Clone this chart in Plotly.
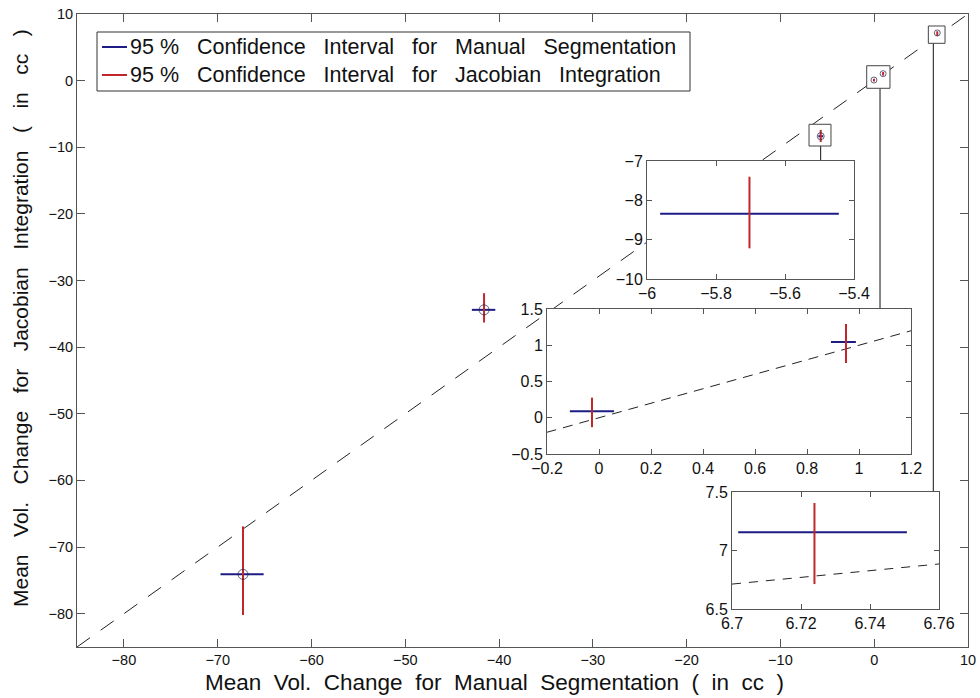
import plotly.graph_objects as go

# ---------------- data ----------------
manual_mean = [-67.3, -41.6, -5.703, -0.027, 0.95, 6.7239]
jacobian_mean = [-74.1, -34.4, -8.34, 0.088, 1.045, 7.155]
manual_lo = [-69.7, -42.9, -5.962, -0.112, 0.892, 6.7018]
manual_hi = [-65.1, -40.4, -5.444, 0.058, 0.988, 6.7507]
jacobian_lo = [-80.2, -36.3, -9.22, -0.13, 0.755, 6.713]
jacobian_hi = [-66.9, -31.9, -7.40, 0.277, 1.293, 7.406]

identity_x = [-85, 10]
identity_y = [-85, 10]
inset3_ref_x = [6.70, 6.76]
inset3_ref_y = [6.713, 6.885]

main_ticks = [-80, -70, -60, -50, -40, -30, -20, -10, 0, 10]
inset1_xticks = [-6, -5.8, -5.6, -5.4]
inset1_yticks = [-10, -9, -8, -7]
inset2_xticks = [-0.2, 0, 0.2, 0.4, 0.6, 0.8, 1, 1.2]
inset2_yticks = [-0.5, 0, 0.5, 1, 1.5]
inset3_xticks = [6.7, 6.72, 6.74, 6.76]
inset3_yticks = [6.5, 7, 7.5]

legend_labels = ["95 % Confidence Interval for Manual Segmentation",
                 "95 % Confidence Interval for Jacobian Integration"]
x_title = "Mean Vol. Change for Manual Segmentation ( in cc )"
y_title = "Mean Vol. Change for Jacobian Integration ( in cc )"

# zoom windows (data units of main axes) marked by small boxes
zoom_box_x0 = [-6.95, -0.80, 5.77]
zoom_box_x1 = [-4.61, 1.68, 7.55]
zoom_box_y0 = [-9.81, -1.15, 5.60]
zoom_box_y1 = [-6.55, 2.24, 8.20]
connector_x = [-5.71, 0.62, 6.30]

# ---------------- layout geometry (pixels) ----------------
W_FIG, H_FIG = 980, 698
L, R, T, B = 77, 968, 14, 647
PW, PH = R - L, B - T

def dx(px):
    return (px - L) / PW

def dy(py):
    return (B - py) / PH

insets_px = [(647, 854, 161, 279), (547, 911, 309, 454), (732, 939, 492, 609)]

FONT = "Liberation Sans, Arial, sans-serif"
BLUE = "#1c1c84"
RED = "#c0262a"
FRAME = "#555555"

def spaced(s, n):
    return s.replace(" ", " " + "\u00a0" * (n - 1))


def ci_traces(xa, ya, width=2):
    bx, by, rx, ry = [], [], [], []
    for i in range(len(manual_mean)):
        bx += [manual_lo[i], manual_hi[i], None]
        by += [jacobian_mean[i], jacobian_mean[i], None]
        rx += [manual_mean[i], manual_mean[i], None]
        ry += [jacobian_lo[i], jacobian_hi[i], None]
    return [
        go.Scatter(x=bx, y=by, mode="lines", line=dict(color=BLUE, width=width),
                   xaxis=xa, yaxis=ya, showlegend=False, hoverinfo="skip",
                   name="95 % CI Manual Segmentation"),
        go.Scatter(x=rx, y=ry, mode="lines", line=dict(color=RED, width=width),
                   xaxis=xa, yaxis=ya, showlegend=False, hoverinfo="skip",
                   name="95 % CI Jacobian Integration"),
    ]


fig = go.Figure()

# main identity line
fig.add_trace(go.Scatter(x=identity_x, y=identity_y, mode="lines",
                         line=dict(color="#222222", width=1, dash="16px,13px"),
                         showlegend=False, hoverinfo="skip"))

# connectors from zoom boxes to insets
cx, cy = [], []
for i, (x0, x1, y0, y1) in enumerate(insets_px):
    top_data = -85 + dy(y0) * 95 - 0.3
    cx += [connector_x[i], connector_x[i], None]
    cy += [zoom_box_y0[i], top_data, None]
fig.add_trace(go.Scatter(x=cx, y=cy, mode="lines", line=dict(color="#111111", width=1),
                         showlegend=False, hoverinfo="skip"))

# zoom boxes (white filled)
bxs, bys = [], []
for i in range(len(zoom_box_x0)):
    bxs += [zoom_box_x0[i], zoom_box_x1[i], zoom_box_x1[i], zoom_box_x0[i], zoom_box_x0[i], None]
    bys += [zoom_box_y0[i], zoom_box_y0[i], zoom_box_y1[i], zoom_box_y1[i], zoom_box_y0[i], None]
fig.add_trace(go.Scatter(x=bxs, y=bys, mode="lines", fill="toself", fillcolor="white",
                         line=dict(color="#444444", width=1), showlegend=False, hoverinfo="skip"))

for t in ci_traces("x", "y"):
    fig.add_trace(t)

fig.add_trace(go.Scatter(x=manual_mean, y=jacobian_mean, mode="markers",
                         marker=dict(symbol="circle-open", color="#22224a",
                                     size=[10, 10, 7, 6, 6, 6], line=dict(width=1)),
                         showlegend=False, hoverinfo="skip"))

# inset traces
for k, ax in enumerate(["2", "3", "4"]):
    xa, ya = "x" + ax, "y" + ax
    if ax == "3":
        fig.add_trace(go.Scatter(x=identity_x, y=identity_y, mode="lines",
                                 line=dict(color="#222222", width=1, dash="10px,7px"),
                                 xaxis=xa, yaxis=ya, showlegend=False, hoverinfo="skip"))
    if ax == "4":
        fig.add_trace(go.Scatter(x=inset3_ref_x, y=inset3_ref_y, mode="lines",
                                 line=dict(color="#222222", width=1, dash="9px,8px"),
                                 xaxis=xa, yaxis=ya, showlegend=False, hoverinfo="skip"))
    for t in ci_traces(xa, ya):
        fig.add_trace(t)

axis_common = dict(showgrid=False, zeroline=False, showline=True, linecolor=FRAME,
                   linewidth=1, mirror="ticks", ticks="inside", tickcolor=FRAME,
                   automargin=False)

layout = dict(
    width=W_FIG, height=H_FIG, autosize=False,
    margin=dict(l=L, r=W_FIG - R, t=T, b=H_FIG - B, pad=0, autoexpand=False),
    paper_bgcolor="white", plot_bgcolor="white",
    showlegend=False,
    xaxis=dict(range=[-85, 10], tickvals=main_ticks, ticklen=8, domain=[0, 1],
               anchor="y", tickfont=dict(family=FONT, size=14.5, color="#111111"),
               **axis_common),
    yaxis=dict(range=[-85, 10], tickvals=main_ticks, ticklen=8, domain=[0, 1],
               anchor="x", tickfont=dict(family=FONT, size=14.5, color="#111111"),
               **axis_common),
)

inset_ranges = [((-6, -5.4), (-10, -7), inset1_xticks, inset1_yticks),
                ((-0.2, 1.2), (-0.5, 1.5), inset2_xticks, inset2_yticks),
                ((6.7, 6.76), (6.5, 7.5), inset3_xticks, inset3_yticks)]
for k, ax in enumerate(["2", "3", "4"]):
    x0, x1, y0, y1 = insets_px[k]
    xr, yr, xt, yt = inset_ranges[k]
    tf = dict(family=FONT, size=16, color="#111111")
    layout["xaxis" + ax] = dict(range=list(xr), tickvals=xt, ticklen=5, tickfont=tf,
                                domain=[dx(x0), dx(x1)], anchor="y" + ax, **axis_common)
    layout["yaxis" + ax] = dict(range=list(yr), tickvals=yt, ticklen=5, tickfont=tf,
                                domain=[dy(y1), dy(y0)], anchor="x" + ax, **axis_common)

fig.update_layout(**layout)

# axis titles
fig.add_annotation(text=spaced(x_title, 2), xref="paper", yref="paper",
                   x=dx(494), y=dy(682), xanchor="center", yanchor="middle",
                   showarrow=False, font=dict(family=FONT, size=22.5, color="#111111"))
fig.add_annotation(text=spaced(y_title, 3), xref="paper", yref="paper",
                   x=dx(20), y=dy(318), xanchor="center", yanchor="middle", textangle=-90,
                   showarrow=False, font=dict(family=FONT, size=21, color="#111111"))

# legend box
fig.add_shape(type="rect", xref="paper", yref="paper", x0=dx(97), x1=dx(690),
              y0=dy(91), y1=dy(32), line=dict(color="#333333", width=1),
              fillcolor="white", layer="above")
for j, (lab, col, ypx) in enumerate(zip(legend_labels, [BLUE, RED], [47, 75])):
    fig.add_shape(type="line", xref="paper", yref="paper", x0=dx(102), x1=dx(127),
                  y0=dy(ypx), y1=dy(ypx), line=dict(color=col, width=2), layer="above")
    txt = lab.replace("95 % ", "95\u00a0%" + " " + "\u00a0\u00a0")
    txt = txt[:8] + spaced(txt[8:], 3)
    fig.add_annotation(text=txt, xref="paper", yref="paper",
                       x=dx(128), y=dy(ypx), xanchor="left", yanchor="middle",
                       showarrow=False, font=dict(family=FONT, size=21.5, color="#111111"))

fig.write_html("out.html", config={"responsive": False})
